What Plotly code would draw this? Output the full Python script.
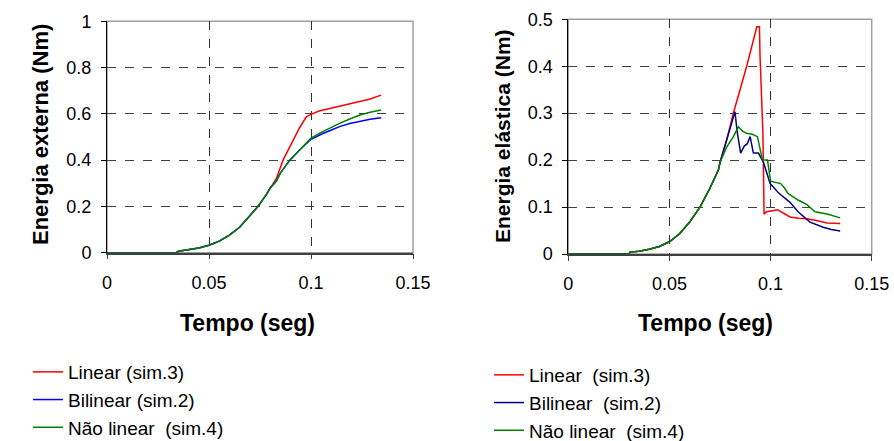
import plotly.graph_objects as go

# ---------------- data: left chart (Energia externa) ----------------
t_ext_red = [0, 0.034, 0.035, 0.040, 0.045, 0.050, 0.055, 0.060, 0.065, 0.070, 0.074, 0.078, 0.080,
             0.083, 0.0863, 0.0904, 0.0944, 0.0977, 0.100, 0.104, 0.109, 0.114, 0.119, 0.124, 0.129, 0.1344]
y_ext_red = [0, 0, 0.006, 0.012, 0.020, 0.032, 0.050, 0.076, 0.110, 0.160, 0.200, 0.250, 0.280,
             0.320, 0.400, 0.470, 0.540, 0.587, 0.598, 0.612, 0.622, 0.632, 0.643, 0.652, 0.664, 0.681]

t_ext_blue = [0, 0.034, 0.035, 0.040, 0.045, 0.050, 0.055, 0.060, 0.065, 0.070, 0.074, 0.078, 0.080,
              0.083, 0.085, 0.0896, 0.0944, 0.100, 0.105, 0.110, 0.114, 0.119, 0.124, 0.129, 0.1344]
y_ext_blue = [0, 0, 0.006, 0.012, 0.020, 0.032, 0.050, 0.076, 0.110, 0.160, 0.200, 0.250, 0.280,
              0.310, 0.344, 0.400, 0.444, 0.490, 0.512, 0.530, 0.545, 0.558, 0.569, 0.577, 0.583]

t_ext_green = [0, 0.034, 0.035, 0.040, 0.045, 0.050, 0.055, 0.060, 0.065, 0.070, 0.074, 0.078, 0.080,
               0.083, 0.085, 0.0896, 0.0944, 0.100, 0.105, 0.110, 0.114, 0.119, 0.124, 0.129, 0.1344]
y_ext_green = [0, 0, 0.006, 0.012, 0.020, 0.032, 0.050, 0.076, 0.110, 0.160, 0.200, 0.250, 0.280,
               0.310, 0.344, 0.400, 0.446, 0.495, 0.520, 0.543, 0.559, 0.578, 0.595, 0.607, 0.617]

# ---------------- data: right chart (Energia elástica) ----------------
t_ela_red = [0, 0.030, 0.0305, 0.035, 0.040, 0.045, 0.050, 0.055, 0.060, 0.0651, 0.070, 0.0742, 0.075,
             0.0783, 0.0816, 0.0882, 0.0932, 0.0945, 0.0948, 0.0956, 0.0962, 0.0968, 0.098, 0.1035,
             0.106, 0.1096, 0.114, 0.118, 0.122, 0.128, 0.1344]
y_ela_red = [0, 0, 0.004, 0.006, 0.010, 0.016, 0.026, 0.043, 0.068, 0.100, 0.140, 0.179, 0.195,
             0.243, 0.300, 0.400, 0.484, 0.484, 0.420, 0.300, 0.260, 0.085, 0.090, 0.094,
             0.088, 0.079, 0.076, 0.075, 0.072, 0.066, 0.065]

t_ela_blue = [0, 0.030, 0.0305, 0.035, 0.040, 0.045, 0.050, 0.055, 0.060, 0.0651, 0.070, 0.0742, 0.075,
              0.0783, 0.0816, 0.0824, 0.0835, 0.0852, 0.087, 0.0885, 0.0899, 0.0915, 0.094, 0.0965,
              0.0998, 0.104, 0.1096, 0.1136, 0.1195, 0.126, 0.130, 0.1344]
y_ela_blue = [0, 0, 0.004, 0.006, 0.010, 0.016, 0.026, 0.043, 0.068, 0.100, 0.140, 0.179, 0.195,
              0.243, 0.290, 0.303, 0.260, 0.215, 0.230, 0.235, 0.250, 0.215, 0.215, 0.195,
              0.150, 0.130, 0.110, 0.090, 0.068, 0.057, 0.052, 0.049]

t_ela_green = [0, 0.030, 0.0305, 0.035, 0.040, 0.045, 0.050, 0.055, 0.060, 0.0651, 0.070, 0.0742, 0.075,
               0.0783, 0.0816, 0.0841, 0.086, 0.088, 0.091, 0.0935, 0.096, 0.0985, 0.100, 0.105,
               0.107, 0.1086, 0.1136, 0.118, 0.122, 0.128, 0.1344]
y_ela_green = [0, 0, 0.004, 0.006, 0.010, 0.016, 0.026, 0.043, 0.068, 0.100, 0.140, 0.179, 0.195,
               0.228, 0.250, 0.271, 0.262, 0.257, 0.255, 0.250, 0.200, 0.200, 0.155, 0.150,
               0.140, 0.129, 0.115, 0.105, 0.090, 0.085, 0.077]

x_ticks = [0, 0.05, 0.1, 0.15]
x_tick_text = ["0", "0.05", "0.1", "0.15"]
y_ticks_ext = [0, 0.2, 0.4, 0.6, 0.8, 1]
y_ticks_ext_text = ["0", "0.2", "0.4", "0.6", "0.8", "1"]
y_ticks_ela = [0, 0.1, 0.2, 0.3, 0.4, 0.5]
y_ticks_ela_text = ["0", "0.1", "0.2", "0.3", "0.4", "0.5"]

names_left = ["Linear (sim.3)", "Bilinear (sim.2)", "Não linear  (sim.4)"]
names_right = ["Linear  (sim.3)", "Bilinear  (sim.2)", "Não linear  (sim.4)"]

FONT = "Liberation Sans, Arial, sans-serif"
W, H = 894, 441

fig = go.Figure()

left_series = [(t_ext_red, y_ext_red, "#FF0000"), (t_ext_blue, y_ext_blue, "#0000FF"),
               (t_ext_green, y_ext_green, "#008000")]
right_series = [(t_ela_red, y_ela_red, "#FF0000"), (t_ela_blue, y_ela_blue, "#000080"),
                (t_ela_green, y_ela_green, "#008000")]

for (t, y, c), nm in zip(left_series, names_left):
    fig.add_trace(go.Scatter(x=t, y=y, mode="lines", name=nm, line=dict(color=c, width=1.5),
                             xaxis="x", yaxis="y", legend="legend"))
for (t, y, c), nm in zip(right_series, names_right):
    fig.add_trace(go.Scatter(x=t, y=y, mode="lines", name=nm, line=dict(color=c, width=1.5),
                             xaxis="x2", yaxis="y2", legend="legend2"))

def px_x(p):
    return p / W

def px_y(p):
    return 1 - p / H

common_x = dict(range=[0, 0.15], tickvals=x_ticks, ticktext=x_tick_text, showgrid=True,
                gridcolor="#303030", griddash="dash", gridwidth=1, zeroline=False, automargin=False,
                showline=True, linecolor="#404040", linewidth=1.5, ticks="outside", ticklen=5,
                tickcolor="#404040", tickfont=dict(family=FONT, size=18, color="#000"),
                ticklabelstandoff=8)
common_y = dict(showgrid=True, gridcolor="#404040", griddash="dash", gridwidth=1, zeroline=False,
                automargin=False, showline=True, linecolor="#000", linewidth=1, ticks="outside",
                ticklen=5, tickcolor="#000", tickfont=dict(family=FONT, size=18, color="#000"),
                ticklabelstandoff=6)

fig.update_layout(
    width=W, height=H, margin=dict(l=0, r=0, t=0, b=0, autoexpand=False),
    paper_bgcolor="white", plot_bgcolor="white",
    font=dict(family=FONT, color="#000"),
    xaxis=dict(domain=[px_x(107), px_x(413)], anchor="y", **common_x),
    yaxis=dict(domain=[px_y(252.7), px_y(21.3)], anchor="x", range=[0, 1],
               tickvals=y_ticks_ext, ticktext=y_ticks_ext_text, **common_y),
    xaxis2=dict(domain=[px_x(568.3), px_x(871.7)], anchor="y2", **common_x),
    yaxis2=dict(domain=[px_y(254), px_y(19.3)], anchor="x2", range=[0, 0.5],
                tickvals=y_ticks_ela, ticktext=y_ticks_ela_text, **common_y),
    legend=dict(x=px_x(28), y=px_y(353), xanchor="left", yanchor="top",
                font=dict(family=FONT, size=19, color="#000"), bgcolor="rgba(0,0,0,0)",
                tracegroupgap=0, itemwidth=30),
    legend2=dict(x=px_x(489), y=px_y(356), xanchor="left", yanchor="top",
                 font=dict(family=FONT, size=19, color="#000"), bgcolor="rgba(0,0,0,0)",
                 tracegroupgap=0, itemwidth=30),
    showlegend=True,
)

# axis titles
for cx in (247, 705):
    fig.add_annotation(text="<b>Tempo (seg)</b>", x=px_x(cx), y=px_y(323), xref="paper",
                       yref="paper", xanchor="center", yanchor="middle", showarrow=False,
                       font=dict(family=FONT, size=23, color="#000"))
fig.add_annotation(text="<b>Energia externa (Nm)</b>", x=px_x(40), y=px_y(135), xref="paper",
                   yref="paper", xanchor="center", yanchor="middle", showarrow=False, textangle=-90,
                   font=dict(family=FONT, size=22, color="#000"))
fig.add_annotation(text="<b>Energia elástica (Nm)</b>", x=px_x(502), y=px_y(136), xref="paper",
                   yref="paper", xanchor="center", yanchor="middle", showarrow=False, textangle=-90,
                   font=dict(family=FONT, size=21, color="#000"))

# gray frame around each plot area
for xr, yr in [("x domain", "y domain"), ("x2 domain", "y2 domain")]:
    fig.add_shape(type="rect", xref=xr, yref=yr, x0=0, x1=1, y0=0, y1=1,
                  line=dict(color="#A0A0A0", width=1.5), layer="below")

# the page body's default 8px margin would push the 894x441 figure out of the window
fig.write_html("out.html", config={"displayModeBar": False},
               post_script="document.body.style.margin='0';")
